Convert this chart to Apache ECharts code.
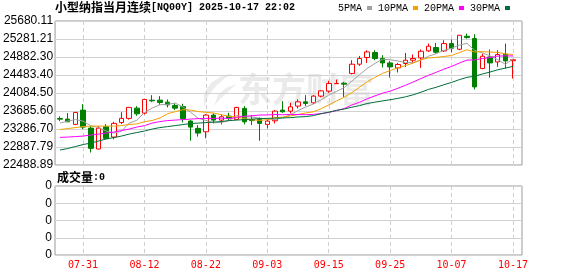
<!DOCTYPE html>
<html><head><meta charset="utf-8">
<script src="https://cdn.jsdelivr.net/npm/echarts@6/dist/echarts.min.js"></script>
<style>html,body{margin:0;padding:0;background:#fff}#c{width:578px;height:276px}</style>
</head><body><div id="c"></div>
<script>
const titleName = '小型纳指当月连续';
const titleCode = '[NQ00Y] 2025-10-17 22:02';
const volTitle = '成交量';
const volValueText = ':0';
const watermark = '东方财富';

const dates = ['07-28','07-29','07-30','07-31','08-01','08-04','08-05','08-06','08-07','08-08',
'08-11','08-12','08-13','08-14','08-15','08-18','08-19','08-20','08-21','08-22',
'08-25','08-26','08-27','08-28','08-29','09-01','09-02','09-03','09-04','09-05',
'09-08','09-09','09-10','09-11','09-12','09-15','09-16','09-17','09-18','09-19',
'09-22','09-23','09-24','09-25','09-26','09-29','09-30','10-01','10-02','10-03',
'10-06','10-07','10-08','10-09','10-10','10-13','10-14','10-15','10-16','10-17'];

const opens = [23520,23506,23389,23705,23307,22843,23336,23108,23429,23522,
23749,23639,23926,23926,23882,23809,23783,23462,23301,23225,
23595,23484,23573,23499,23743,23495,23499,23389,23469,23705,
23683,23794,23889,23867,24015,24126,24291,24302,24517,24723,
24871,24981,24849,24751,24641,24738,24811,24862,25017,25092,
25017,25180,25054,25342,25291,24627,24884,24773,24944,24800];
const closes = [23505,23446,23654,23329,22858,23307,23079,23411,23522,23765,
23623,23942,23910,23875,23822,23749,23517,23329,23196,23595,
23484,23557,23528,23765,23446,23473,23411,23462,23683,23668,
23778,23889,23853,24015,24132,24296,24296,24280,24723,24849,
24995,24849,24751,24663,24716,24811,24849,25010,25121,24988,
25180,25076,25364,25313,24220,24899,24751,24937,24796,24822];
const lows = [23462,23440,23374,23285,22765,22836,23064,23057,23395,23495,
23579,23610,23882,23822,23765,23705,23433,23026,23119,23079,
23411,23389,23484,23484,23389,23373,23026,23300,23411,23646,
23632,23743,23794,23838,23986,24088,24285,24000,24495,24685,
24751,24811,24650,24428,24539,24663,24738,24641,24995,24959,
24995,24988,25032,25291,24163,24612,24428,24663,24627,24406];
const highs = [23566,23639,23667,23838,23351,23351,23396,23446,23661,23772,
23794,23949,24037,24015,23942,23860,23845,23484,23373,23617,
23632,23610,23646,23779,23794,23595,23544,23506,23705,23904,
23867,23942,24037,24037,24148,24353,24384,24331,24811,24906,
25032,25032,24922,24796,24751,24972,24937,25048,25180,25194,
25253,25268,25370,25401,25386,24959,25048,25032,25180,24826];

const ma5 = [23418,23462,23495,23462,23359,23319,23245,23197,23235,23417,
23480,23653,23752,23823,23834,23860,23775,23658,23523,23477,
23424,23432,23472,23586,23556,23554,23525,23511,23495,23539,
23600,23696,23774,23841,23933,24037,24118,24204,24345,24489,
24629,24739,24833,24821,24795,24758,24758,24810,24901,24956,
25030,25075,25146,25184,25031,24974,24909,24824,24721,24841];
const ma10 = [23274,23296,23318,23340,23351,23351,23351,23351,23362,23388,
23399,23449,23475,23529,23626,23670,23714,23705,23673,23656,
23642,23603,23565,23554,23517,23489,23478,23492,23540,23548,
23577,23610,23643,23668,23736,23819,23907,23989,24093,24211,
24333,24429,24519,24583,24642,24693,24749,24822,24861,24875,
24894,24917,24978,25043,24993,25002,24992,24985,24952,24936];
const ma20 = [23101,23108,23119,23130,23152,23174,23197,23219,23252,23285,
23329,23362,23418,23451,23473,23484,23495,23506,23517,23522,
23521,23526,23520,23542,23571,23579,23596,23599,23607,23602,
23610,23607,23604,23611,23627,23654,23693,23740,23817,23879,
23955,24020,24081,24126,24189,24256,24328,24405,24477,24543,
24613,24673,24748,24813,24818,24848,24870,24903,24907,24906];
const ma30 = [22821,22854,22898,22942,22975,23020,23064,23097,23130,23174,
23208,23241,23285,23318,23340,23362,23385,23407,23418,23429,
23440,23451,23473,23484,23495,23506,23517,23522,23528,23531,
23539,23554,23561,23584,23626,23659,23700,23729,23769,23805,
23851,23881,23909,23935,23965,24000,24045,24101,24165,24211,
24268,24319,24380,24431,24457,24505,24549,24599,24636,24674];

const volume = [0,0,0,0,0,0,0,0,0,0, 0,0,0,0,0,0,0,0,0,0, 0,0,0,0,0,0,0,0,0,0,
0,0,0,0,0,0,0,0,0,0, 0,0,0,0,0,0,0,0,0,0, 0,0,0,0,0,0,0,0,0,0];

const yTickLabels = ['22488.89','22887.79','23286.70','23685.60','24084.50','24483.40','24882.30','25281.21','25680.11'];
const volTickLabels = ['0','0','0','0','0'];
const xTickDates = ['07-31','08-12','08-22','09-03','09-15','09-25','10-07','10-17'];
const maNames = ['5PMA','10PMA','20PMA','30PMA'];
const maColors = ['#a0a0a0','#f5a000','#ff00ff','#006e3a'];
const maData = [ma5, ma10, ma20, ma30];

const xIdx = xTickDates.map(d => dates.indexOf(d));
const yVals = yTickLabels.map(Number);
const mono = '"Liberation Mono", monospace';
const monoBold = '"DejaVu Sans Mono", monospace';
const cjk = '"Noto Sans CJK SC", sans-serif';
const sans = '"Liberation Sans", Arial, sans-serif';

function xAxisFor(gi, showLabel) {
  return {
    type: 'value', gridIndex: gi, min: -0.65, max: 60.17,
    axisLine: { show: false },
    axisTick: { show: false, customValues: xIdx },
    splitLine: { show: true, lineStyle: { color: '#cfcfcf', type: [4, 3], width: 1 } },
    axisLabel: showLabel ? {
      show: true, customValues: xIdx, formatter: v => dates[v],
      color: '#ff0000', fontFamily: monoBold, fontSize: 10, margin: 5
    } : { show: false }
  };
}

const chart = echarts.init(document.getElementById('c'), null, { renderer: 'canvas' });
const option = {
  animation: false,
  backgroundColor: '#ffffff',
  title: [
    { left: 55, top: 1, padding: 0,
      text: '{a|' + titleName + '}{b|' + titleCode + '}',
      textStyle: { rich: {
        a: { fontFamily: cjk, fontSize: 12, color: '#000' },
        b: { fontFamily: mono, fontSize: 10, color: '#000' } } } },
    { left: 57, top: 171, padding: 0,
      text: '{a|' + volTitle + '}{b|' + volValueText + '}',
      textStyle: { rich: {
        a: { fontFamily: cjk, fontSize: 12, color: '#000' },
        b: { fontFamily: mono, fontSize: 10, color: '#000' } } } }
  ],
  legend: {
    data: maNames, left: 338, top: 3, align: 'right', icon: 'rect',
    itemWidth: 5, itemHeight: 4, itemGap: 6, padding: 0,
    textStyle: { fontFamily: mono, fontSize: 10, color: '#000' }
  },
  graphic: [
    { type: 'polygon', z: 0, silent: true,
      shape: { points: [[234,73],[222,76],[211,83],[204,93],[204,107],[208,96],[216,86],[225,78]] },
      style: { fill: '#ececec' } },
    { type: 'polygon', z: 0, silent: true,
      shape: { points: [[236,84],[226,88],[218,95],[214,106],[220,99],[228,92]] },
      style: { fill: '#ececec' } },
    { type: 'text', left: 238, top: 72, z: 0, silent: true,
      style: { text: watermark, font: 'bold 34px "Noto Sans CJK SC"', fill: '#eaeaea' } }
  ],
  grid: [
    { left: 55, top: 21, width: 467, height: 144, show: true, borderColor: '#999', borderWidth: 1 },
    { left: 55, top: 186, width: 467, height: 69, show: true, borderColor: '#999', borderWidth: 1 }
  ],
  xAxis: [xAxisFor(0, false), xAxisFor(1, true)],
  yAxis: [
    { type: 'value', gridIndex: 0, min: yVals[0], max: yVals[yVals.length - 1],
      axisLine: { show: false }, axisTick: { show: false, customValues: yVals },
      splitLine: { show: true, lineStyle: { color: '#d2d2d2', width: 1 } },
      axisLabel: { customValues: yVals, formatter: v => v.toFixed(2),
        color: '#000', fontFamily: sans, fontSize: 12, margin: 2 } },
    { type: 'value', gridIndex: 1, min: 0, max: 4, interval: 1,
      axisLine: { show: false }, axisTick: { show: false },
      splitLine: { show: true, lineStyle: { color: '#d2d2d2', width: 1 } },
      axisLabel: { formatter: v => volTickLabels[v], color: '#000', fontFamily: sans, fontSize: 12, margin: 3 } }
  ],
  series: [
    { type: 'candlestick', name: 'K', xAxisIndex: 0, yAxisIndex: 0, barWidth: 5,
      encode: { x: 0, y: [1, 2, 3, 4] },
      data: dates.map((d, i) => [i, opens[i], closes[i], lows[i], highs[i]]),
      itemStyle: { color: '#ffffff', color0: '#008000', borderColor: '#ff0000', borderColor0: '#008000', borderWidth: 1 } },
    ...maNames.map((n, k) => ({
      type: 'line', name: n, xAxisIndex: 0, yAxisIndex: 0, showSymbol: false, symbol: 'none',
      data: dates.map((d, i) => [i, maData[k][i]]),
      lineStyle: { color: maColors[k], width: 1 }, itemStyle: { color: maColors[k] }
    })),
    { type: 'bar', name: 'VOL', xAxisIndex: 1, yAxisIndex: 1, barWidth: 5,
      data: dates.map((d, i) => [i, volume[i]]), itemStyle: { color: '#008000' } }
  ]
};
chart.setOption(option);
</script>
</body></html>
